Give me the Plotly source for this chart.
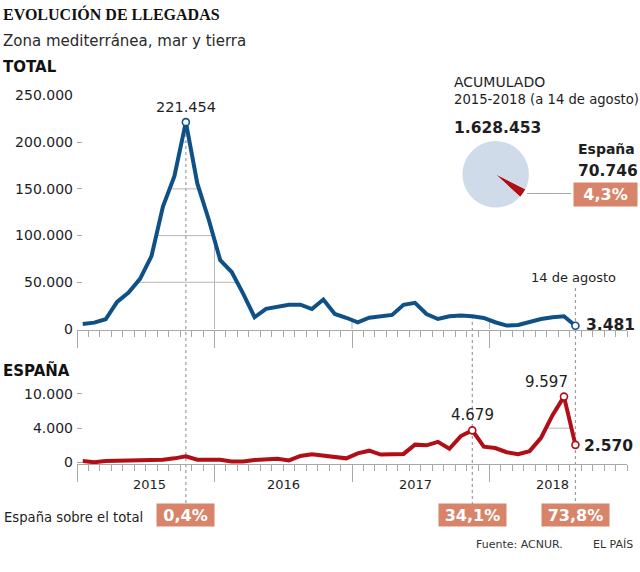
import numpy as np
import plotly.graph_objects as go

# ---------------- data ----------------
years = ["2015", "2016", "2017", "2018"]
month_names = ["ene", "feb", "mar", "abr", "may", "jun", "jul", "ago", "sep", "oct", "nov", "dic"]
months = [f"{m} {y}" for y in years for m in month_names][:44]   # ene 2015 .. ago 2018

total = [5400, 6800, 10400, 29000, 39000, 53600, 78000, 131000, 163500, 221454, 155800, 117000,
         73700, 61000, 37800, 12600, 21600, 24000, 25900, 26000, 21300, 31500, 16000, 12000,
         7000, 12000, 13600, 15000, 25800, 28000, 16000, 10700, 13600, 14300, 13600, 11800,
         7200, 3600, 4300, 7900, 10700, 12500, 13600, 3481]

spain = [220, 30, 200, 250, 350, 300, 350, 400, 600, 900, 400, 400,
         400, 150, 150, 350, 500, 550, 300, 950, 1200, 1000, 850, 600,
         1330, 1720, 1150, 1240, 1250, 2600, 2500, 3000, 2000, 3850, 4679, 2300,
         2100, 1500, 1200, 1650, 3600, 6900, 9597, 2570]

top_ticks = [0, 50000, 100000, 150000, 200000, 250000]
top_ticktext = ["0", "50.000", "100.000", "150.000", "200.000", "250.000"]
bot_ticks = [0, 5000, 10000]
bot_ticktext = ["0", "4.000", "10.000"]

acc_total = 1628453
acc_spain = 70746

highlight_total = {"oct 2015": "221.454", "ago 2018": "3.481"}
highlight_spain = {"nov 2017": "4.679", "jul 2018": "9.597", "ago 2018": "2.570"}
share_labels = {"oct 2015": "0,4%", "nov 2017": "34,1%", "ago 2018": "73,8%"}

# ---------------- style ----------------
SANS = "DejaVu Sans"
SERIF = "Liberation Serif"
INK = "#1e1e1e"
BLUE = "#0f5186"
RED = "#b10f17"
SALMON = "#d8846a"
PIE_LIGHT = "#d0dbe9"
GRID = "#b5b5b5"
AXIS = "#a8a8a8"
DOT = "#9c9c9c"

W, H = 640, 572
ML, MR = 77, 13
PW = W - ML - MR


def px(v):
    return (v - ML) / PW


def py(v):
    return 1 - v / H


x = np.arange(len(months)) + 0.5
idx = {m: i for i, m in enumerate(months)}


def grid_segments(xs, ys, level):
    sx, sy = [], []
    start = xs[0] if ys[0] >= level else None
    for i in range(1, len(xs)):
        a0, a1 = ys[i - 1] >= level, ys[i] >= level
        if a0 != a1:
            xc = xs[i - 1] + (level - ys[i - 1]) * (xs[i] - xs[i - 1]) / (ys[i] - ys[i - 1])
            if a1:
                start = xc
            else:
                sx += [start, xc, None]
                sy += [level, level, None]
                start = None
    if start is not None:
        sx += [start, xs[-1], None]
        sy += [level, level, None]
    return sx, sy


fig = go.Figure()

# gridlines visible only under the curves
for lvl in top_ticks[1:]:
    sx, sy = grid_segments(list(x), total, lvl)
    if sx:
        fig.add_trace(go.Scatter(x=sx, y=sy, mode="lines", line=dict(color=GRID, width=1),
                                 hoverinfo="skip", showlegend=False, xaxis="x", yaxis="y"))
for b in [12, 24, 36]:
    yv = float(np.interp(b, x, total))
    fig.add_trace(go.Scatter(x=[b, b], y=[0, yv], mode="lines", line=dict(color=GRID, width=1),
                             hoverinfo="skip", showlegend=False, xaxis="x", yaxis="y"))
for lvl in bot_ticks[1:]:
    sx, sy = grid_segments(list(x), spain, lvl)
    if sx:
        fig.add_trace(go.Scatter(x=sx, y=sy, mode="lines", line=dict(color=GRID, width=1),
                                 hoverinfo="skip", showlegend=False, xaxis="x2", yaxis="y2"))

# main lines
fig.add_trace(go.Scatter(x=x, y=total, mode="lines", line=dict(color=BLUE, width=4),
                         hoverinfo="skip", showlegend=False, xaxis="x", yaxis="y"))
fig.add_trace(go.Scatter(x=x, y=spain, mode="lines", line=dict(color=RED, width=4),
                         hoverinfo="skip", showlegend=False, xaxis="x2", yaxis="y2"))

# highlighted points
ti = [idx[m] for m in highlight_total]
fig.add_trace(go.Scatter(x=[x[i] for i in ti], y=[total[i] for i in ti], mode="markers",
                         marker=dict(size=7, color="white", line=dict(color=BLUE, width=1.6)),
                         cliponaxis=False, hoverinfo="skip", showlegend=False, xaxis="x", yaxis="y"))
si = [idx[m] for m in highlight_spain]
fig.add_trace(go.Scatter(x=[x[i] for i in si], y=[spain[i] for i in si], mode="markers",
                         marker=dict(size=7, color="white", line=dict(color=RED, width=1.6)),
                         cliponaxis=False, hoverinfo="skip", showlegend=False, xaxis="x2", yaxis="y2"))

# pie of accumulated arrivals
fig.add_trace(go.Pie(values=[acc_spain, acc_total - acc_spain], labels=["España", "Resto"],
                     marker=dict(colors=[RED, PIE_LIGHT], line=dict(width=0)),
                     sort=False, direction="clockwise", rotation=117, textinfo="none",
                     hoverinfo="skip", showlegend=False,
                     domain=dict(x=[px(462.5), px(528.9)], y=[py(207.5), py(141.1)])))

axis_common = dict(range=[0, 48], showline=True, linecolor=AXIS, linewidth=1,
                   ticks="outside", tickvals=[0, 12, 24, 36], ticklen=17, tickcolor=AXIS,
                   tickwidth=1, showticklabels=False, showgrid=False, zeroline=False,
                   minor=dict(ticks="outside", tickmode="array",
                              tickvals=[m for m in range(1, 49) if m % 12 or m == 48],
                              ticklen=6, tickcolor=AXIS, tickwidth=1, showgrid=False),
                   automargin=False, fixedrange=True)

ytick_font = dict(family=SANS, size=14, color=INK)

fig.update_layout(
    width=W, height=H,
    margin=dict(l=ML, r=MR, t=0, b=0, pad=0, autoexpand=False),
    paper_bgcolor="white", plot_bgcolor="rgba(0,0,0,0)",
    showlegend=False,
    xaxis=dict(domain=[0, 1], anchor="y", **axis_common),
    xaxis2=dict(domain=[0, 1], anchor="y2", **axis_common),
    yaxis=dict(domain=[py(329.9), py(95.5)], range=[-1000, 250000], anchor="x",
               tickvals=top_ticks, ticktext=top_ticktext, ticks="inside", ticklen=5,
               tickcolor=AXIS, showgrid=False, zeroline=False, showline=False,
               tickfont=ytick_font, ticklabelstandoff=3, automargin=False, fixedrange=True),
    yaxis2=dict(domain=[py(464.2), py(392.8)], range=[-250, 10150], anchor="x2",
                tickvals=bot_ticks, ticktext=bot_ticktext, ticks="inside", ticklen=5,
                tickcolor=AXIS, showgrid=False, zeroline=False, showline=False,
                tickfont=ytick_font, ticklabelstandoff=3, automargin=False, fixedrange=True),
)

# dotted reference lines
for m, top in [("oct 2015", 122), ("nov 2017", 316), ("ago 2018", 288)]:
    fig.add_shape(type="line", xref="x", yref="paper", x0=x[idx[m]], x1=x[idx[m]],
                  y0=py(top), y1=py(504), line=dict(color=DOT, width=1.2, dash="dot"), layer="below")
# pie leader
fig.add_shape(type="line", xref="paper", yref="paper", x0=px(527), x1=px(571),
              y0=py(193.5), y1=py(193.5), line=dict(color="#aaaaaa", width=1))


def ann(text, xp, yp, size, color=INK, family=SANS, xanchor="left", xref="paper", **kw):
    fig.add_annotation(text=text, x=xp, y=yp, xref=xref, yref="paper", showarrow=False,
                       xanchor=xanchor, yanchor="middle",
                       font=dict(family=family, size=size, color=color), **kw)


ann("<b>EVOLUCIÓN DE LLEGADAS</b>", px(1), py(14), 16, color="#111", family=SERIF)
ann("Zona mediterránea, mar y tierra", px(1), py(41), 15, color="#2a2a2a")
ann("<b>TOTAL</b>", px(1), py(67), 15, color="#111")
ann("<b>ESPAÑA</b>", px(1), py(370), 15, color="#111")

ann("ACUMULADO", px(452), py(82), 14)
ann("2015-2018 (a 14 de agosto)", px(452), py(99.5), 13.2)
ann("<b>1.628.453</b>", px(452), py(128), 15.5)
ann("<b>España</b>", px(576), py(149), 14)
ann("<b>70.746</b>", px(576), py(170.5), 15.5)
fig.add_annotation(text="<b>4,3%</b>", x=px(605.5), y=py(194.5), xref="paper", yref="paper",
                   showarrow=False, xanchor="center", yanchor="middle", bgcolor=SALMON,
                   width=63, height=23, borderpad=0,
                   font=dict(family=SANS, size=16, color="white"))

# value labels
ann(highlight_total["oct 2015"], x[idx["oct 2015"]], py(107), 14.5, xanchor="center", xref="x")
ann("14 de agosto", x[idx["ago 2018"]] - 0.15, py(277), 13, xanchor="center", xref="x")
ann("<b>" + highlight_total["ago 2018"] + "</b>", px(584), py(324.5), 15.5)
ann(highlight_spain["nov 2017"], x[idx["nov 2017"]], py(415), 15, xanchor="center", xref="x")
ann(highlight_spain["jul 2018"], x[idx["jul 2018"]] - 1.5, py(382), 15, xanchor="center", xref="x")
ann("<b>" + highlight_spain["ago 2018"] + "</b>", px(582), py(446), 15.5)

# year labels
for yr, xpos in zip(years, [149, 283, 415, 552]):
    ann(yr, px(xpos), py(484.5), 13, xanchor="center")

# share of Spain
ann("España sobre el total", px(1.5), py(517), 13.2)
for m, lab in share_labels.items():
    w = 57 if len(lab) == 4 else 67
    fig.add_annotation(text="<b>" + lab + "</b>", x=x[idx[m]], y=py(515), xref="x", yref="paper",
                       showarrow=False, xanchor="center", yanchor="middle", bgcolor=SALMON,
                       width=w, height=22, borderpad=0,
                       font=dict(family=SANS, size=16, color="white"))

ann("Fuente: ACNUR.", px(474), py(544), 11, color="#333")
ann("EL PAÍS", px(591), py(544), 11, color="#333")

fig.write_html("out.html", config={"displayModeBar": False},
               post_script="document.body.style.margin='0';document.body.style.overflow='hidden';")
